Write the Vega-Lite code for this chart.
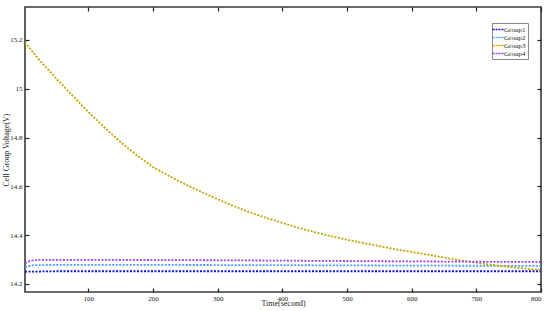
{
  "$schema": "https://vega.github.io/schema/vega-lite/v6.json",
  "width": 516,
  "height": 285,
  "autosize": "none",
  "padding": {"left": 25, "top": 7, "right": 9, "bottom": 19},
  "background": "white",
  "config": {
    "view": {"stroke": "#3a3a3a", "strokeWidth": 1.6},
    "font": "Liberation Serif",
    "axis": {"grid": false, "domain": false, "ticks": true, "tickColor": "#222", "tickSize": -4, "tickWidth": 1.2, "labelFont": "Liberation Serif", "labelFontSize": 7, "labelColor": "#222", "titleFont": "Liberation Serif", "titleFontSize": 8, "titleFontWeight": "normal", "titleColor": "#222"}
  },
  "data": {"values": [
    {"t": 2, "v": 14.25, "g": "Group1"}, {"t": 50, "v": 14.252, "g": "Group1"}, {"t": 200, "v": 14.252, "g": "Group1"}, {"t": 400, "v": 14.252, "g": "Group1"}, {"t": 600, "v": 14.252, "g": "Group1"}, {"t": 800, "v": 14.252, "g": "Group1"},
    {"t": 2, "v": 14.268, "g": "Group2"}, {"t": 15, "v": 14.277, "g": "Group2"}, {"t": 50, "v": 14.278, "g": "Group2"}, {"t": 200, "v": 14.278, "g": "Group2"}, {"t": 400, "v": 14.277, "g": "Group2"}, {"t": 600, "v": 14.275, "g": "Group2"}, {"t": 800, "v": 14.274, "g": "Group2"},
    {"t": 2, "v": 15.19, "g": "Group3"}, {"t": 25, "v": 15.115, "g": "Group3"}, {"t": 50, "v": 15.043, "g": "Group3"}, {"t": 75, "v": 14.973, "g": "Group3"}, {"t": 100, "v": 14.905, "g": "Group3"}, {"t": 125, "v": 14.841, "g": "Group3"}, {"t": 150, "v": 14.781, "g": "Group3"}, {"t": 175, "v": 14.727, "g": "Group3"}, {"t": 200, "v": 14.679, "g": "Group3"}, {"t": 225, "v": 14.642, "g": "Group3"}, {"t": 250, "v": 14.608, "g": "Group3"}, {"t": 275, "v": 14.577, "g": "Group3"}, {"t": 300, "v": 14.547, "g": "Group3"}, {"t": 325, "v": 14.519, "g": "Group3"}, {"t": 350, "v": 14.493, "g": "Group3"}, {"t": 375, "v": 14.471, "g": "Group3"}, {"t": 400, "v": 14.45, "g": "Group3"}, {"t": 425, "v": 14.43, "g": "Group3"}, {"t": 450, "v": 14.412, "g": "Group3"}, {"t": 475, "v": 14.396, "g": "Group3"}, {"t": 500, "v": 14.381, "g": "Group3"}, {"t": 525, "v": 14.368, "g": "Group3"}, {"t": 550, "v": 14.355, "g": "Group3"}, {"t": 575, "v": 14.342, "g": "Group3"}, {"t": 600, "v": 14.331, "g": "Group3"}, {"t": 625, "v": 14.32, "g": "Group3"}, {"t": 650, "v": 14.308, "g": "Group3"}, {"t": 675, "v": 14.297, "g": "Group3"}, {"t": 700, "v": 14.287, "g": "Group3"}, {"t": 725, "v": 14.278, "g": "Group3"}, {"t": 750, "v": 14.27, "g": "Group3"}, {"t": 775, "v": 14.263, "g": "Group3"}, {"t": 800, "v": 14.257, "g": "Group3"},
    {"t": 2, "v": 14.285, "g": "Group4"}, {"t": 10, "v": 14.295, "g": "Group4"}, {"t": 25, "v": 14.299, "g": "Group4"}, {"t": 100, "v": 14.299, "g": "Group4"}, {"t": 300, "v": 14.297, "g": "Group4"}, {"t": 500, "v": 14.294, "g": "Group4"}, {"t": 700, "v": 14.291, "g": "Group4"}, {"t": 800, "v": 14.29, "g": "Group4"}
  ]},
  "layer": [
    {
      "mark": {"type": "line", "strokeWidth": 1.8, "strokeDash": [2, 1.5], "clip": true},
      "encoding": {
        "x": {"field": "t", "type": "quantitative", "scale": {"domain": [2, 800], "nice": false, "zero": false}, "axis": {"values": [100, 200, 300, 400, 500, 600, 700, 800], "title": "Time(second)", "labelPadding": 6, "titlePadding": -2}},
        "y": {"field": "v", "type": "quantitative", "scale": {"domain": [14.167, 15.335], "nice": false, "zero": false}, "axis": {"values": [14.2, 14.4, 14.6, 14.8, 15, 15.2], "format": ".1~f", "title": "Cell Group Voltage(V)", "labelPadding": 7, "titlePadding": -1}},
        "color": {"field": "g", "type": "nominal", "scale": {"domain": ["Group1", "Group2", "Group3", "Group4"], "range": ["#1010d8", "#4aa0ff", "#c4a400", "#9a40f0"]},
          "legend": {"title": null, "orient": "none", "legendX": 467, "legendY": 16, "symbolType": "M-1.6,0H1.6", "symbolSize": 56, "symbolStrokeWidth": 1.4, "symbolDash": [2, 1], "labelFont": "Liberation Serif", "labelFontSize": 7, "labelColor": "#222", "rowPadding": -2, "padding": 2, "strokeColor": "#888", "fillColor": "white", "labelOffset": 1}}
      }
    },
    {
      "mark": {"type": "point", "opacity": 0},
      "encoding": {
        "x": {"field": "t", "type": "quantitative", "axis": {"orient": "top", "values": [100, 200, 300, 400, 500, 600, 700, 800], "labels": false, "title": null}},
        "y": {"field": "v", "type": "quantitative", "axis": {"orient": "right", "values": [14.2, 14.4, 14.6, 14.8, 15, 15.2], "labels": false, "title": null}}
      }
    }
  ],
  "resolve": {"axis": {"x": "independent", "y": "independent"}}
}
